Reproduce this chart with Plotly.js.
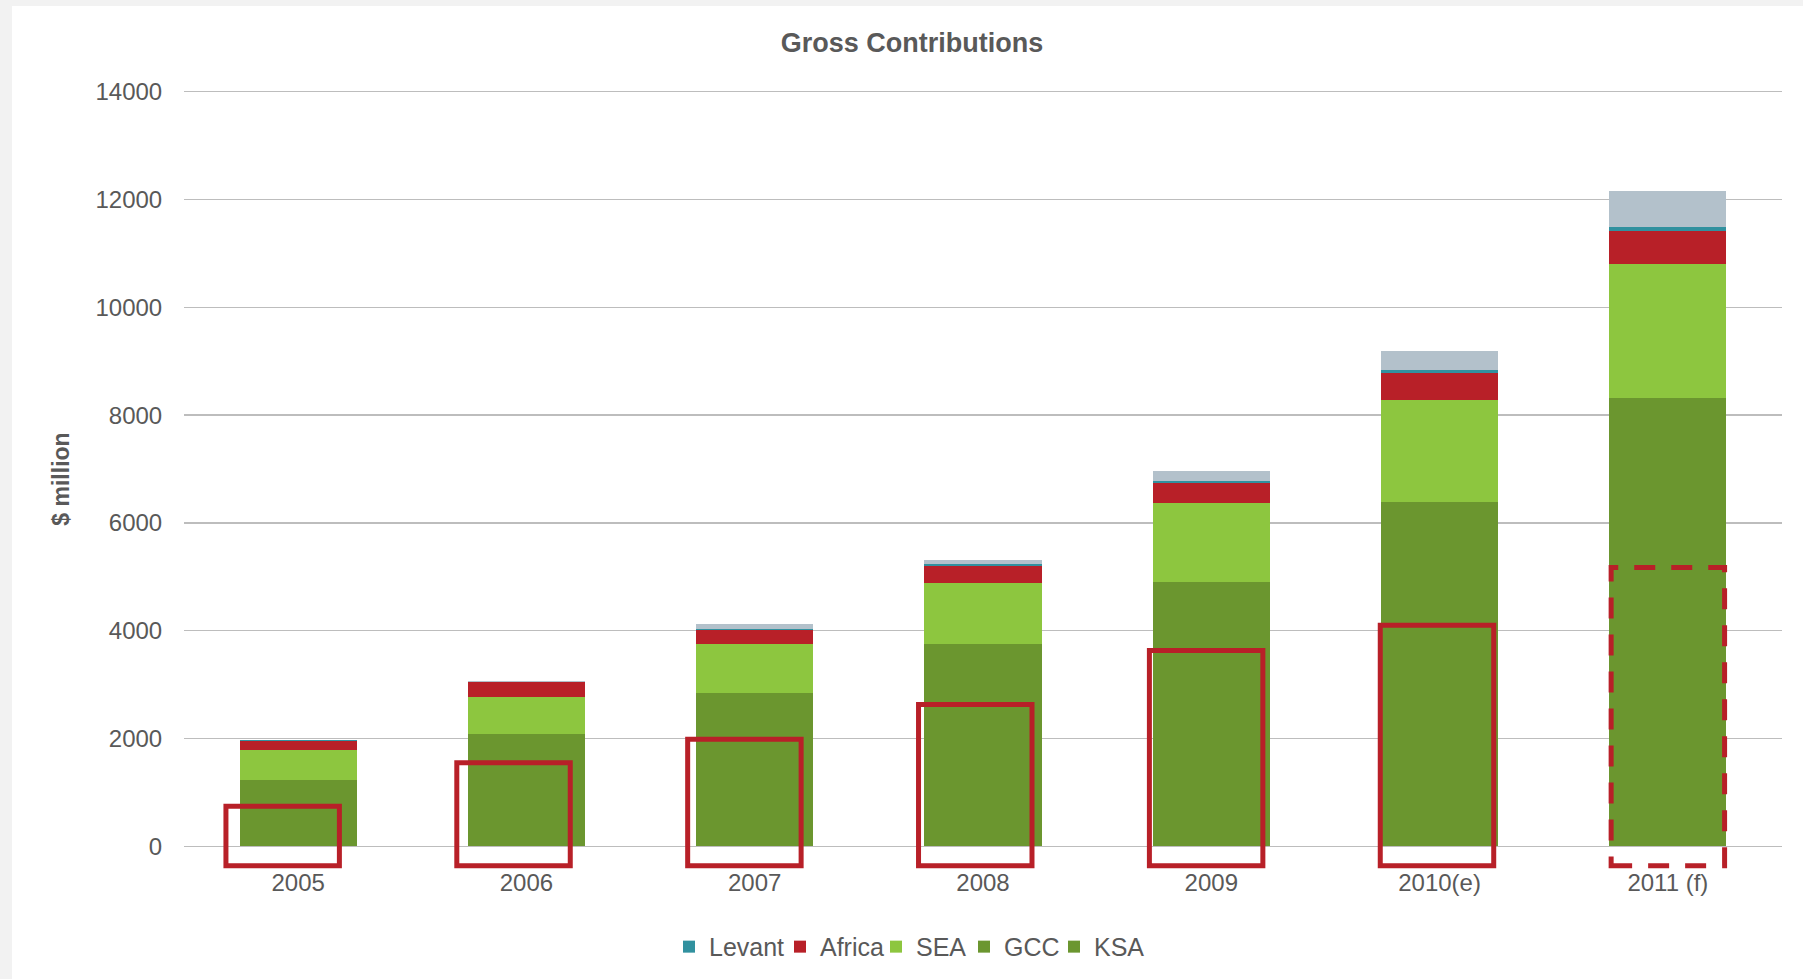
<!DOCTYPE html>
<html><head><meta charset="utf-8">
<script src="https://cdn.plot.ly/plotly-3.0.1.min.js"></script>
<style>
html,body{margin:0;padding:0;background:#f2f2f2;overflow:hidden}
#chart{position:absolute;left:12px;top:6px;width:1791px;height:973px;background:#fff}
</style></head><body><div id="chart"></div>
<script>
// Categories and series values ($ million)
const years  = ['2005', '2006', '2007', '2008', '2009', '2010(e)', '2011 (f)'];
const ksa    = [746, 1549, 1986, 2631, 3635, 4101, 5172];
const gcc    = [492, 542, 859, 1117, 1264, 2295, 3154];
const sea    = [543, 687, 909, 1145, 1471, 1886, 2479];
const africa = [167, 278, 254, 316, 366, 501, 620];
const levant = [19, 0, 32, 37, 50, 50, 67];
const other  = [13, 8, 93, 74, 178, 352, 668];
const yTicks = [0, 2000, 4000, 6000, 8000, 10000, 12000, 14000];
const forecast = [false, false, false, false, false, false, true];

const FONT = 'Liberation Sans, Arial, sans-serif';
const TXT = '#595959';

function bar(name, y, color, legendId) {
  const t = {type: 'bar', name: name, x: years, y: y,
             marker: {color: color, line: {width: 0}}, hoverinfo: 'x+y+name'};
  if (legendId) { t.legend = legendId; t.showlegend = true; } else { t.showlegend = false; }
  return t;
}
const data = [
  bar('KSA', ksa, '#6b962f', 'legend5'),
  bar('GCC', gcc, '#6b962f', 'legend4'),
  bar('SEA', sea, '#8dc63f', 'legend3'),
  bar('Africa', africa, '#b82028', 'legend2'),
  bar('Levant', levant, '#31919f', 'legend'),
  bar('Other', other, '#b3c1cb', null)
];

// Red outline boxes highlighting the KSA portion of each bar
const boxBottom = -360;
const shapes = ksa.map((v, i) => {
  const c = (years.length - 1) - (years.length - 1 - i) * 1.0113;
  return {type: 'rect', xref: 'x', yref: 'y', layer: 'above',
          x0: c - 0.2485, x1: c + 0.2485, y0: boxBottom, y1: v,
          fillcolor: 'rgba(0,0,0,0)',
          line: {color: '#b82028', width: 5, dash: forecast[i] ? '21px,16px' : 'solid'}};
});

function leg(xpx) {
  return {orientation: 'h', xref: 'container', yref: 'container',
          x: xpx / 1791, xanchor: 'left', y: 0.033, yanchor: 'middle',
          font: {family: FONT, size: 25, color: TXT}, itemwidth: 30,
          bgcolor: 'rgba(0,0,0,0)', borderwidth: 0};
}

const layout = {
  width: 1791, height: 973,
  paper_bgcolor: '#ffffff', plot_bgcolor: '#ffffff',
  margin: {l: 172, r: 21, t: 83, b: 110, pad: 0},
  font: {family: FONT, color: TXT, size: 24},
  title: {text: '<b>Gross Contributions</b>', font: {family: FONT, size: 27, color: TXT},
          xref: 'container', yref: 'container', x: 0.5025, y: 0.962,
          xanchor: 'center', yanchor: 'middle'},
  barmode: 'stack', bargap: 0.487,
  xaxis: {type: 'category', showgrid: false, zeroline: false, showline: false,
          ticks: '', ticklabelstandoff: -3,
          tickfont: {family: FONT, size: 24, color: TXT}, fixedrange: true},
  yaxis: {range: [-420, 14050], tickvals: yTicks, ticktext: yTicks.map(String),
          showgrid: true, gridcolor: '#bdbdbd', gridwidth: 1.4,
          zeroline: false, showline: false,
          ticks: 'outside', ticklen: 16, tickcolor: 'rgba(0,0,0,0)',
          tickfont: {family: FONT, size: 24, color: TXT},
          title: {text: '<b>$ million</b>', font: {family: FONT, size: 23, color: TXT}, standoff: 19},
          fixedrange: true},
  legend: leg(657),
  legend2: leg(768),
  legend3: leg(864),
  legend4: leg(952),
  legend5: leg(1042),
  shapes: shapes,
  showlegend: true
};

Plotly.newPlot('chart', data, layout, {displayModeBar: false, staticPlot: true});
</script></body></html>
